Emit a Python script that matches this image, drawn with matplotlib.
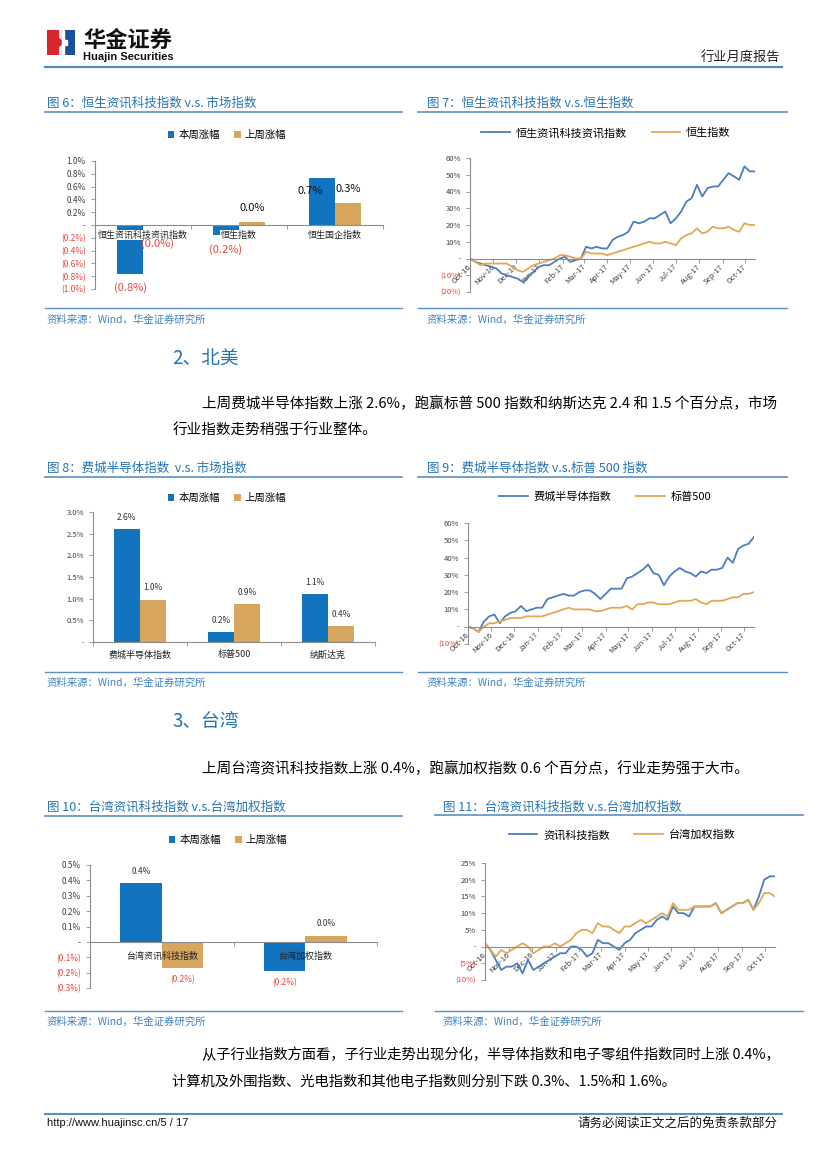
import matplotlib
matplotlib.use('Agg')
import matplotlib.pyplot as plt
import matplotlib.dates as mdates
from matplotlib.lines import Line2D
from matplotlib.patches import Rectangle, Polygon
import numpy as np
import pandas as pd

plt.rcParams['font.family'] = ['Noto Sans CJK SC', 'DejaVu Sans']
plt.rcParams['axes.unicode_minus'] = False

W, H = 827, 1169

# ---------------- data ----------------
legend_bar = ['本周涨幅', '上周涨幅']

hk_cats = ['恒生资讯科技资讯指数', '恒生指数', '恒生国企指数']
hk_this = [-0.76, -0.16, 0.74]
hk_last = [-0.02, 0.04, 0.34]

us_cats = ['费城半导体指数', '标普500', '纳斯达克']
us_this = [2.6, 0.23, 1.1]
us_last = [0.98, 0.87, 0.36]

tw_cats = ['台湾资讯科技指数', '台湾加权指数']
tw_this = [0.38, -0.19]
tw_last = [-0.17, 0.04]

# weekly cumulative returns (%), 2016-10-14 .. 2017-10-27
hsit = [0, -2, -3, -4, -5, -6, -9, -10, -11, -12, -14, -11, -8, -5, -4,
        -4, -2, 0, 1, -2, -1, 0, 7, 6, 7, 6, 6, 11, 13, 14,
        16, 22, 21, 22, 24, 24, 26, 28, 21, 24, 28, 34, 36, 44, 37,
        42, 43, 43, 47, 51, 49, 47, 55, 52, 52]
hsi = [0, -2, -4, -3, -3, -3, -3, -3, -5, -7, -8, -6, -4, -3, -2,
       -1, 0, 2, 2, 1, 0, 0, 4, 3, 3, 3, 2, 3, 4, 5,
       6, 7, 8, 9, 10, 9, 9, 10, 9, 8, 12, 14, 15, 18, 15,
       16, 19, 18, 18, 19, 17, 16, 21, 20, 20]

sox = [0, -1, -3, 3, 6, 7, 2, 6, 8, 9, 12, 9, 10, 11, 11,
       16, 17, 18, 19, 18, 18, 20, 21, 21, 19, 16, 19, 22, 22, 22,
       28, 29, 31, 33, 36, 31, 30, 24, 29, 32, 34, 32, 31, 29, 32,
       31, 33, 33, 34, 40, 37, 45, 47, 48, 52]
spx = [0, -1, -3, 0, 2, 2, 3, 4, 5, 5, 5, 6, 6, 6, 6,
       7, 8, 9, 10, 11, 10, 10, 10, 10, 9, 9, 10, 11, 11, 11,
       12, 10, 13, 13, 14, 14, 13, 13, 13, 14, 15, 15, 15, 16, 14,
       13, 15, 15, 15, 16, 17, 17, 19, 19, 20]

twit = [1, -1, -4, -7, -6, -6, -5, -8, -4, -7, -6, -5, -4, -3, -2,
        -2, 0, 0, -1, -3, -2, 2, 1, 1, 0, -1, 1, 2, 4, 5,
        6, 6, 8, 9, 8, 12, 10, 10, 9, 12, 12, 12, 12, 13, 10,
        11, 12, 13, 13, 14, 11, 15, 20, 21, 21]
twii = [1, -1, -3, -1, -2, -1, 0, 1, 0, -2, -1, 0, 0, 1, 0,
        1, 2, 4, 5, 5, 4, 7, 6, 6, 5, 4, 6, 6, 7, 8,
        7, 8, 9, 10, 9, 13, 11, 11, 11, 12, 12, 12, 12, 13, 10,
        11, 12, 13, 13, 14, 11, 13, 16, 16, 15]

# ---------------- style ----------------
BAR_BLUE = '#1274be'
BAR_TAN = '#d6a55e'
LINE_BLUE = '#4c7dbc'
LINE_ORANGE = '#e2a855'
TITLE_C = '#2474b5'
RULE_C = '#5b8fc3'
RED = '#e8453c'
TICK_C = '#404040'
AX_C = '#8c8c8c'

fig = plt.figure(figsize=(W / 100, H / 100), dpi=100)


def rect(x0, y0, x1, y1):
    return [x0 / W, 1 - y1 / H, (x1 - x0) / W, (y1 - y0) / H]


def ftext(x, y, s, **kw):
    kw.setdefault('va', 'center')
    return fig.text(x / W, 1 - y / H, s, **kw)


def hline(x0, x1, y, color=RULE_C, lw=1.2):
    fig.add_artist(Line2D([x0 / W, x1 / W], [1 - y / H, 1 - y / H],
                          transform=fig.transFigure, color=color, lw=lw))


def pct_tick(v, dec):
    if abs(v) < 1e-9:
        return '-'
    s = f"{abs(v):.{dec}f}%"
    return f"({s})" if v < 0 else s


def pct_label(v):
    s = f"{abs(v):.1f}%"
    return f"({s})" if v < 0 else s


def panel(x0, x1, tx, y_title, y_rule, y_src, y_srct, title):
    ftext(tx, y_title, title, fontsize=9, color=TITLE_C)
    hline(x0, x1, y_rule)
    hline(x0, x1, y_src, lw=1.0)
    ftext(tx, y_srct, '资料来源：Wind，华金证券研究所', fontsize=7.5,
          color='#3f80c2', style='italic')


def style_axes(ax, fs):
    for s in ['top', 'right']:
        ax.spines[s].set_visible(False)
    for s in ['left', 'bottom']:
        ax.spines[s].set_color(AX_C)
        ax.spines[s].set_linewidth(0.8)
    ax.spines['bottom'].set_position(('data', 0))
    ax.tick_params(colors=AX_C, labelcolor=TICK_C, labelsize=fs,
                   length=3, width=0.6)
    ax.set_facecolor('none')


def color_neg(ax, ticks):
    for lbl, v in zip(ax.get_yticklabels(), ticks):
        if v < 0:
            lbl.set_color(RED)


def bar_chart(box, cats, this, last, ylim, ystep, width, leg_xy,
              tick_fs, lab_fs, off, pos_c, cat_pad, cat_bg=False):
    ax = fig.add_axes(rect(*box))
    n = len(cats)
    x = np.arange(n) + 0.5
    b1 = ax.bar(x - width / 2, this, width, color=BAR_BLUE, label=legend_bar[0])
    b2 = ax.bar(x + width / 2, last, width, color=BAR_TAN, label=legend_bar[1])
    ax.set_xlim(0, n)
    ax.set_ylim(*ylim)
    yt = np.round(np.arange(ylim[0], ylim[1] + ystep / 2, ystep), 4)
    ax.set_yticks(yt)
    ax.set_yticklabels([pct_tick(v, 1) for v in yt])
    style_axes(ax, tick_fs)
    color_neg(ax, yt)
    ax.set_xticks(np.arange(n + 1))
    ax.set_xticklabels([])
    ax.set_xticks(x, minor=True)
    ax.set_xticklabels(cats, minor=True, fontsize=6.5, color='#222222')
    ax.tick_params(axis='x', which='minor', length=0, pad=cat_pad)
    if cat_bg:
        for t in ax.get_xticklabels(minor=True):
            t.set_bbox(dict(facecolor='white', edgecolor='none', pad=0.5))
    anns = []
    for bars, vals in ((b1, this), (b2, last)):
        row = []
        for b, v in zip(bars, vals):
            cx = b.get_x() + b.get_width() / 2
            a = ax.annotate(pct_label(v), (cx, v),
                            xytext=(0, off if v >= 0 else -off),
                            textcoords='offset pixels', ha='center',
                            va='center', fontsize=lab_fs,
                            color=pos_c if v >= 0 else RED)
            row.append(a)
        anns.append(row)
    ax.legend(loc='center', bbox_to_anchor=(leg_xy[0] / W, 1 - leg_xy[1] / H),
              bbox_transform=fig.transFigure, ncol=2, frameon=False,
              fontsize=7.5, handlelength=0.6, handleheight=0.6,
              handletextpad=0.4, columnspacing=1.4)
    return ax, anns


def line_chart(box, s1, s2, names, ylim, ystep, leg_xy):
    ax = fig.add_axes(rect(*box))
    dates = pd.date_range('2016-10-14', periods=len(s1), freq='7D').to_pydatetime()
    ax.plot(dates, s1, color=LINE_BLUE, lw=1.3, label=names[0])
    ax.plot(dates, s2, color=LINE_ORANGE, lw=1.3, label=names[1])
    ax.set_xlim(dates[0], dates[-1])
    ax.set_ylim(*ylim)
    yt = np.arange(ylim[0], ylim[1] + ystep / 2, ystep)
    ax.set_yticks(yt)
    ax.set_yticklabels([pct_tick(v, 0) for v in yt])
    style_axes(ax, 5.5)
    color_neg(ax, yt)
    months = pd.date_range('2016-10-14', periods=13,
                           freq=pd.DateOffset(months=1)).to_pydatetime()
    ax.set_xticks(months)
    ax.xaxis.set_major_formatter(mdates.DateFormatter('%b-%y'))
    ax.tick_params(axis='x', pad=2)
    for t in ax.get_xticklabels():
        t.set_rotation(45)
        t.set_ha('right')
        t.set_va('center')
        t.set_rotation_mode('anchor')
    ax.legend(loc='center', bbox_to_anchor=(leg_xy[0] / W, 1 - leg_xy[1] / H),
              bbox_transform=fig.transFigure, ncol=2, frameon=False,
              fontsize=8, handlelength=2.6, handletextpad=0.5,
              columnspacing=2.2)
    return ax


# ---------------- header ----------------
axl = fig.add_axes(rect(47, 30, 75, 55))
axl.set_xlim(0, 28)
axl.set_ylim(0, 25)
axl.axis('off')
axl.add_patch(Rectangle((0, 0), 11, 25, color='#d9262c'))
axl.add_patch(Rectangle((15, 0), 13, 25, color='#1b4e9b'))
axl.add_patch(Polygon([(11, 8), (17, 12.5), (11, 17)], color='#d9262c'))
axl.add_patch(Polygon([(15, 0), (17, 0), (17, 25), (15, 25)], color='white'))
axl.add_patch(Rectangle((17, 10), 3, 5, color='white'))

ftext(83, 40, '华金证券', fontsize=16, fontweight='bold', color='#111111')
ftext(83, 57, 'Huajin Securities', fontsize=8, fontweight='bold',
      family=['Liberation Sans Narrow', 'Liberation Sans', 'DejaVu Sans'],
      color='#111111')
ftext(780, 57, '行业月度报告', fontsize=9.5, ha='right', color='#222222')
hline(45, 782, 67, color='#4f8cc0', lw=1.6)

# ---------------- figure 6 / 7 ----------------
panel(45, 402, 47, 103, 112, 308, 320, '图 6：恒生资讯科技指数 v.s. 市场指数')
panel(418, 787, 427, 103, 112, 308, 320, '图 7：恒生资讯科技指数 v.s.恒生指数')

ax6, a6 = bar_chart((95, 161, 383, 289), hk_cats, hk_this, hk_last,
                    (-1.0, 1.0), 0.2, 0.27, (227, 135), 6, 8, 14,
                    '#111111', 4, cat_bg=True)
a6[0][2].xyann = (-12, -13)
a6[1][0].xyann = (2, -17)

line_chart((470, 158, 755, 292), hsit, hsi, ['恒生资讯科技资讯指数', '恒生指数'],
           (-20, 60), 10, (606, 133))

# ---------------- section 2 ----------------
ftext(172, 358, '2、北美', fontsize=13.5, color=TITLE_C)
ftext(202, 404, '上周费城半导体指数上涨 2.6%，跑赢标普 500 指数和纳斯达克 2.4 和 1.5 个百分点，市场',
      fontsize=10.5)
ftext(173, 431, '行业指数走势稍强于行业整体。', fontsize=10.5)

# ---------------- figure 8 / 9 ----------------
panel(45, 402, 47, 468, 477, 672, 683, '图 8：费城半导体指数  v.s. 市场指数')
panel(418, 787, 427, 468, 477, 672, 683, '图 9：费城半导体指数 v.s.标普 500 指数')

bar_chart((93, 512, 375, 642), us_cats, us_this, us_last,
          (0, 3.0), 0.5, 0.28, (227, 498), 5.5, 6, 12, '#333333', 6)

line_chart((468, 523, 754, 644), sox, spx, ['费城半导体指数', '标普500'],
           (-10, 60), 10, (605, 497))

# ---------------- section 3 ----------------
ftext(172, 722, '3、台湾', fontsize=13.5, color=TITLE_C)
ftext(202, 769, '上周台湾资讯科技指数上涨 0.4%，跑赢加权指数 0.6 个百分点，行业走势强于大市。',
      fontsize=10.5)

# ---------------- figure 10 / 11 ----------------
panel(45, 402, 47, 807, 816, 1011, 1022, '图 10：台湾资讯科技指数 v.s.台湾加权指数')
panel(435, 803, 443, 807, 815, 1011, 1022, '图 11：台湾资讯科技指数 v.s.台湾加权指数')

bar_chart((90, 865, 377, 988), tw_cats, tw_this, tw_last,
          (-0.3, 0.5), 0.1, 0.29, (228, 840), 6, 6, 12, '#333333', 7)

line_chart((485, 863, 775, 980), twit, twii, ['资讯科技指数', '台湾加权指数'],
           (-10, 25), 5, (622, 835))

# ---------------- closing text & footer ----------------
ftext(202, 1055, '从子行业指数方面看，子行业走势出现分化，半导体指数和电子零组件指数同时上涨 0.4%，',
      fontsize=10.3)
ftext(172, 1082, '计算机及外围指数、光电指数和其他电子指数则分别下跌 0.3%、1.5%和 1.6%。',
      fontsize=10.3)

hline(45, 782, 1114, color='#5b8fc3', lw=1.5)
ftext(47, 1123, 'http://www.huajinsc.cn/5 / 17', fontsize=8,
      family=['Liberation Sans', 'DejaVu Sans'], color='#111111')
ftext(778, 1123, '请务必阅读正文之后的免责条款部分', fontsize=9, ha='right',
      color='#111111')

fig.savefig('out.png', dpi=100)
